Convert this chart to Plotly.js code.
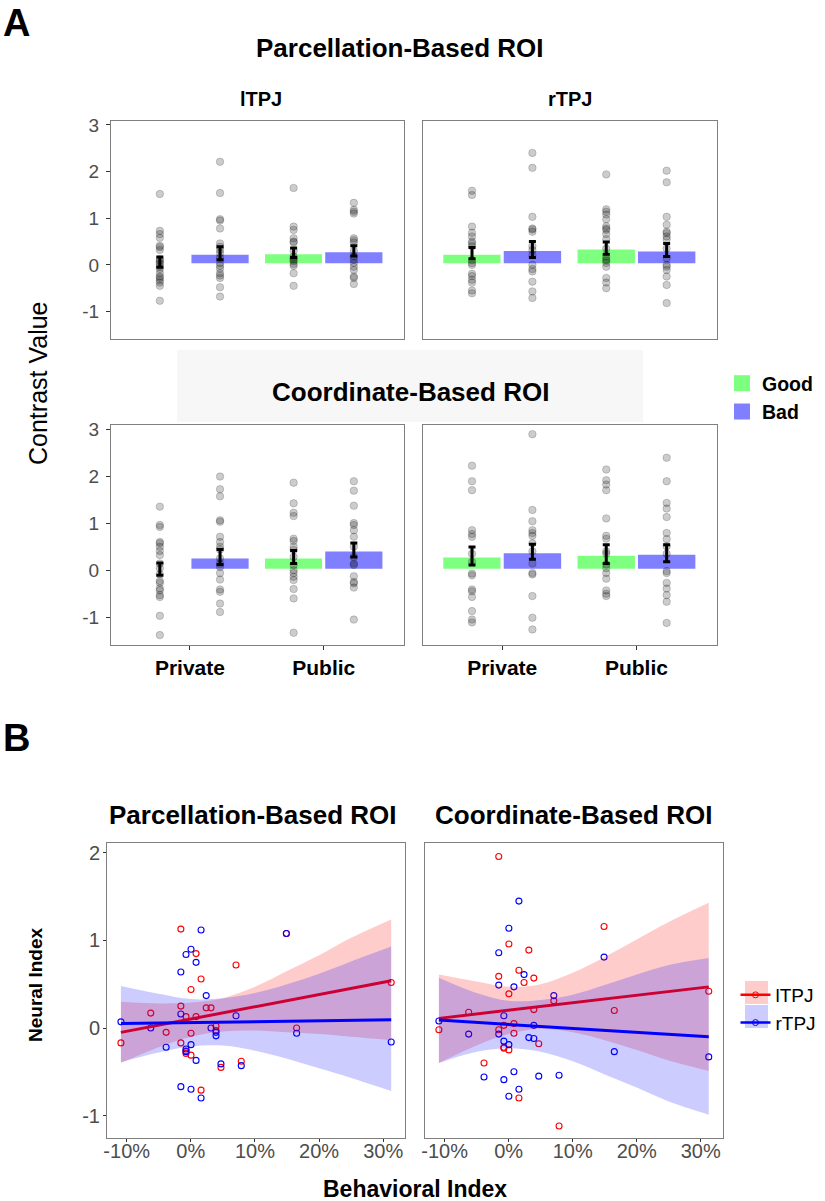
<!DOCTYPE html>
<html><head><meta charset="utf-8">
<script src="https://cdn.plot.ly/plotly-3.0.1.min.js"></script>
<style>html,body{margin:0;padding:0;background:#fff}#chart{width:825px;height:1201px}</style>
</head><body><div id="chart"></div>
<script>
// ---------------- DATA: Panel A ----------------
const categories = ['Private', 'Public'];
const conditions = ['Good', 'Bad'];
const yTicksA = [-1, 0, 1, 2, 3];
const yTickLabelsA = ['-1', '0', '1', '2', '3'];

// Parcellation-based, lTPJ
const parcL_good_mean = [0.06, 0.26], parcL_good_se = [0.11, 0.10];
const parcL_bad_mean  = [0.25, 0.30], parcL_bad_se  = [0.14, 0.11];
const parcL_good_private = [1.52, 0.73, 0.66, 0.58, 0.41, 0.38, 0.32, 0.12, 0.09, 0.05, 0.02, -0.04, -0.09, -0.18, -0.25, -0.28, -0.33, -0.38, -0.45, -0.77];
const parcL_good_public  = [1.65, 0.82, 0.75, 0.57, 0.50, 0.48, 0.30, 0.18, 0.14, 0.11, 0.08, 0.02, -0.02, -0.18, -0.45];
const parcL_bad_private  = [2.21, 1.54, 0.98, 0.95, 0.78, 0.46, 0.39, 0.32, 0.25, 0.15, 0.04, -0.02, -0.08, -0.18, -0.23, -0.28, -0.48, -0.68];
const parcL_bad_public   = [1.33, 1.18, 1.14, 1.10, 0.57, 0.53, 0.48, 0.30, 0.18, 0.11, 0.04, -0.04, -0.11, -0.25, -0.28, -0.41];

// Parcellation-based, rTPJ
const parcR_good_mean = [0.25, 0.36], parcR_good_se = [0.12, 0.13];
const parcR_bad_mean  = [0.33, 0.32], parcR_bad_se  = [0.17, 0.14];
const parcR_good_private = [1.59, 1.50, 0.82, 0.69, 0.61, 0.50, 0.46, 0.40, 0.10, 0.04, 0.00, -0.19, -0.24, -0.32, -0.38, -0.55, -0.61];
const parcR_good_public  = [1.94, 1.19, 1.14, 1.08, 0.98, 0.83, 0.78, 0.75, 0.66, 0.55, 0.35, 0.18, 0.12, 0.09, 0.04, -0.04, -0.28, -0.38, -0.50];
const parcR_bad_private  = [2.40, 2.08, 1.03, 0.78, 0.76, 0.71, 0.40, 0.32, 0.21, 0.00, -0.09, -0.14, -0.36, -0.57, -0.71];
const parcR_bad_public   = [2.02, 1.77, 1.03, 0.86, 0.71, 0.68, 0.61, 0.55, 0.35, 0.14, 0.00, -0.04, -0.11, -0.25, -0.43, -0.82];

// Coordinate-based, lTPJ
const coordL_good_mean = [0.02, 0.28], coordL_good_se = [0.13, 0.14];
const coordL_bad_mean  = [0.28, 0.43], coordL_bad_se  = [0.16, 0.15];
const coordL_good_private = [1.35, 0.96, 0.92, 0.60, 0.57, 0.50, 0.41, 0.32, 0.14, 0.04, -0.09, -0.23, -0.27, -0.39, -0.43, -0.53, -0.57, -0.97, -1.38];
const coordL_good_public  = [1.86, 1.42, 1.22, 1.15, 0.67, 0.62, 0.50, 0.43, 0.28, 0.11, 0.00, -0.06, -0.14, -0.21, -0.40, -0.60, -1.33];
const coordL_bad_private  = [1.99, 1.72, 1.57, 1.06, 1.03, 0.71, 0.60, 0.50, 0.44, 0.25, 0.14, 0.07, -0.06, -0.20, -0.41, -0.46, -0.71, -0.89];
const coordL_bad_public   = [1.89, 1.69, 1.37, 1.00, 0.96, 0.85, 0.71, 0.50, 0.28, 0.14, 0.11, -0.13, -0.25, -0.28, -0.37, -1.05];

// Coordinate-based, rTPJ
const coordR_good_mean = [0.30, 0.34], coordR_good_se = [0.19, 0.20];
const coordR_bad_mean  = [0.39, 0.36], coordR_bad_se  = [0.16, 0.18];
const coordR_good_private = [2.22, 1.89, 1.70, 0.85, 0.77, 0.71, 0.35, 0.18, -0.07, -0.11, -0.41, -0.45, -0.57, -0.87, -1.05, -1.11];
const coordR_good_public  = [2.14, 1.91, 1.82, 1.70, 1.10, 0.73, 0.67, 0.40, 0.35, 0.12, 0.04, -0.06, -0.18, -0.43, -0.50, -0.55];
const coordR_bad_private  = [2.89, 1.28, 1.04, 0.85, 0.79, 0.73, 0.57, 0.40, 0.14, -0.06, -0.09, -0.55, -1.01, -1.26];
const coordR_bad_public   = [2.39, 1.89, 1.43, 1.31, 1.13, 0.79, 0.66, 0.51, 0.35, -0.02, -0.06, -0.27, -0.39, -0.53, -0.67, -1.12];

// ---------------- DATA: Panel B ----------------
const regions = ['lTPJ', 'rTPJ'];
const xTicksB = [-0.1, 0, 0.1, 0.2, 0.3];
const xTickLabelsB = ['-10%', '0%', '10%', '20%', '30%'];
const yTicksB = [-1, 0, 1, 2];
const yTickLabelsB = ['-1', '0', '1', '2'];

const behavIndex = [-0.109, -0.0625, -0.0385, -0.0155, -0.0155, -0.0155, -0.0075, -0.0075, -0.0075, 0.0003, 0.0003, 0.0003, 0.0082, 0.0082, 0.016, 0.016, 0.024, 0.0315, 0.0393, 0.0393, 0.047, 0.0705, 0.0787, 0.149, 0.165, 0.3125];
const parc_lTPJ  = [-0.17, 0.17, -0.05, 1.13, 0.25, -0.17, 0.13, -0.26, -0.29, 0.44, -0.06, -0.31, 0.85, 0.13, 0.56, -0.71, 0.23, 0.23, 0.02, -0.03, -0.45, 0.72, -0.38, 1.08, 0.00, 0.52];
const parc_rTPJ  = [0.07, 0.00, -0.22, 0.64, 0.16, -0.67, 0.84, -0.24, -0.27, 0.90, -0.19, -0.70, 0.75, -0.37, 1.12, -0.80, 0.37, 0.00, -0.09, -0.05, -0.41, 0.14, -0.43, 1.08, -0.06, -0.16];
const coord_lTPJ = [-0.02, 0.18, -0.40, 1.96, 0.59, -0.02, 0.03, -0.22, -0.23, 0.96, 0.39, -0.25, 0.05, -0.06, 0.66, -0.80, 0.52, 0.89, 0.57, 0.21, -0.18, 0.31, -1.12, 1.16, 0.20, 0.42];
const coord_rTPJ = [0.08, -0.07, -0.56, 0.86, 0.49, -0.07, 0.14, -0.15, -0.59, 1.14, -0.19, -0.78, 0.47, -0.50, 1.45, -0.70, 0.61, -0.11, 0.03, -0.12, -0.55, 0.37, -0.54, 0.81, -0.27, -0.33];

// fitted regression lines (endpoints)
const fitX = [-0.109, 0.3125];
const parc_lTPJ_fit  = [-0.05, 0.54];
const parc_rTPJ_fit  = [0.05, 0.095];
const coord_lTPJ_fit = [0.11, 0.47];
const coord_rTPJ_fit = [0.09, -0.10];

// confidence bands
const bandX = [-0.109, -0.05, 0, 0.05, 0.10, 0.15, 0.20, 0.25, 0.3125];
const parc_lTPJ_upper  = [0.30, 0.28, 0.29, 0.34, 0.47, 0.65, 0.83, 1.03, 1.24];
const parc_lTPJ_lower  = [-0.40, -0.22, -0.10, -0.04, -0.03, -0.05, -0.07, -0.10, -0.14];
const parc_rTPJ_upper  = [0.48, 0.39, 0.33, 0.34, 0.40, 0.50, 0.62, 0.76, 0.93];
const parc_rTPJ_lower  = [-0.39, -0.28, -0.21, -0.20, -0.26, -0.35, -0.46, -0.57, -0.72];
const coord_lTPJ_upper = [0.61, 0.53, 0.47, 0.50, 0.63, 0.81, 1.01, 1.21, 1.43];
const coord_lTPJ_lower = [-0.40, -0.20, -0.07, -0.01, -0.05, -0.14, -0.25, -0.37, -0.49];
const coord_rTPJ_upper = [0.575, 0.40, 0.31, 0.32, 0.38, 0.49, 0.61, 0.72, 0.80];
const coord_rTPJ_lower = [-0.40, -0.27, -0.23, -0.27, -0.38, -0.53, -0.68, -0.84, -0.99];

// ---------------- BUILD ----------------
const FONT = 'Liberation Sans, Arial, Helvetica, sans-serif';
const W = 825, H = 1201;
const px = v => v / W;
const py = v => 1 - v / H;

const condFill = {Good: 'rgba(0,255,0,0.5)', Bad: 'rgba(0,0,255,0.5)'};
const dodge = {Good: -0.225, Bad: 0.225};
const barWidth = 0.45;

const panelsA = [
  {xa: 'x',  ya: 'y',  Good: {mean: parcL_good_mean, se: parcL_good_se, pts: [parcL_good_private, parcL_good_public]},
                        Bad:  {mean: parcL_bad_mean,  se: parcL_bad_se,  pts: [parcL_bad_private,  parcL_bad_public]}},
  {xa: 'x2', ya: 'y2', Good: {mean: parcR_good_mean, se: parcR_good_se, pts: [parcR_good_private, parcR_good_public]},
                        Bad:  {mean: parcR_bad_mean,  se: parcR_bad_se,  pts: [parcR_bad_private,  parcR_bad_public]}},
  {xa: 'x3', ya: 'y3', Good: {mean: coordL_good_mean, se: coordL_good_se, pts: [coordL_good_private, coordL_good_public]},
                        Bad:  {mean: coordL_bad_mean,  se: coordL_bad_se,  pts: [coordL_bad_private,  coordL_bad_public]}},
  {xa: 'x4', ya: 'y4', Good: {mean: coordR_good_mean, se: coordR_good_se, pts: [coordR_good_private, coordR_good_public]},
                        Bad:  {mean: coordR_bad_mean,  se: coordR_bad_se,  pts: [coordR_bad_private,  coordR_bad_public]}}
];

const traces = [];
panelsA.forEach(p => {
  conditions.forEach(c => {
    const d = p[c];
    const xs = categories.map((_, i) => i + dodge[c]);
    traces.push({type: 'bar', x: xs, y: d.mean, width: barWidth, xaxis: p.xa, yaxis: p.ya,
      marker: {color: condFill[c], line: {color: 'white', width: 3}}, showlegend: false, hoverinfo: 'skip'});
  });
});
panelsA.forEach(p => {
  conditions.forEach(c => {
    const d = p[c];
    const xs = [], ys = [];
    d.pts.forEach((arr, i) => arr.forEach(v => { xs.push(i + dodge[c]); ys.push(v); }));
    traces.push({type: 'scatter', mode: 'markers', x: xs, y: ys, xaxis: p.xa, yaxis: p.ya,
      marker: {size: 7.5, color: 'rgba(0,0,0,0.2)', line: {color: 'rgba(0,0,0,0.22)', width: 0.8}},
      showlegend: false, hoverinfo: 'skip'});
  });
});
panelsA.forEach(p => {
  conditions.forEach(c => {
    const d = p[c];
    const xs = categories.map((_, i) => i + dodge[c]);
    traces.push({type: 'scatter', mode: 'markers', x: xs, y: d.mean, xaxis: p.xa, yaxis: p.ya,
      marker: {size: 1, color: 'rgba(0,0,0,0)'},
      error_y: {type: 'data', array: d.se, visible: true, color: 'black', thickness: 3, width: 3.5},
      showlegend: false, hoverinfo: 'skip'});
  });
});
// legend entries for Good / Bad
conditions.forEach(c => {
  traces.push({type: 'scatter', mode: 'markers', x: [null], y: [null], name: c, legend: 'legend',
    xaxis: 'x', yaxis: 'y',
    marker: {symbol: 'square', size: 17, color: condFill[c], line: {width: 0}}});
});

// Panel B
const regColor = {lTPJ: 'red', rTPJ: 'blue'};
const regBand = {lTPJ: 'rgba(255,0,0,0.2)', rTPJ: 'rgba(0,0,255,0.2)'};
const panelsB = [
  {xa: 'x5', ya: 'y5', lTPJ: {y: parc_lTPJ, fit: parc_lTPJ_fit, up: parc_lTPJ_upper, lo: parc_lTPJ_lower},
                        rTPJ: {y: parc_rTPJ, fit: parc_rTPJ_fit, up: parc_rTPJ_upper, lo: parc_rTPJ_lower}},
  {xa: 'x6', ya: 'y6', lTPJ: {y: coord_lTPJ, fit: coord_lTPJ_fit, up: coord_lTPJ_upper, lo: coord_lTPJ_lower},
                        rTPJ: {y: coord_rTPJ, fit: coord_rTPJ_fit, up: coord_rTPJ_upper, lo: coord_rTPJ_lower}}
];
panelsB.forEach(p => {
  regions.forEach(r => {
    traces.push({type: 'scatter', mode: 'markers', x: behavIndex, y: p[r].y, xaxis: p.xa, yaxis: p.ya,
      marker: {symbol: 'circle-open', size: 6, color: regColor[r], line: {width: 1.1}},
      showlegend: false, hoverinfo: 'skip'});
  });
  regions.forEach(r => {
    traces.push({type: 'scatter', mode: 'lines', x: bandX, y: p[r].up, xaxis: p.xa, yaxis: p.ya,
      line: {width: 0, shape: 'spline'}, showlegend: false, hoverinfo: 'skip'});
    traces.push({type: 'scatter', mode: 'lines', x: bandX, y: p[r].lo, xaxis: p.xa, yaxis: p.ya,
      fill: 'tonexty', fillcolor: regBand[r],
      line: {width: 0, shape: 'spline'}, showlegend: false, hoverinfo: 'skip'});
    traces.push({type: 'scatter', mode: 'lines', x: fitX, y: p[r].fit, xaxis: p.xa, yaxis: p.ya,
      line: {width: 3, color: regColor[r]}, showlegend: false, hoverinfo: 'skip'});
  });
});
regions.forEach(r => {
  traces.push({type: 'scatter', mode: 'lines+markers', x: [null], y: [null], name: r, legend: 'legend2',
    xaxis: 'x5', yaxis: 'y5',
    line: {color: regColor[r], width: 2.5}, marker: {symbol: 'circle-open', size: 6, color: regColor[r]}});
});

// ---------------- LAYOUT ----------------
const frame = {showline: true, mirror: true, linecolor: '#7f7f7f', linewidth: 1, zeroline: false, showgrid: false};
function axA(dom, opts) { return Object.assign({}, frame, {domain: dom, range: [-0.59, 1.6], fixedrange: true}, opts); }
function ayA(dom, opts) { return Object.assign({}, frame, {domain: dom, range: [-1.59, 3.085], fixedrange: true}, opts); }
const yTickStyleA = {tickvals: yTicksA, ticktext: yTickLabelsA, ticks: 'outside', ticklen: 4, tickcolor: '#333',
  ticklabelstandoff: 3, tickfont: {family: FONT, size: 19, color: '#4d4d4d'}};
const xTickStyleA = {tickvals: [0, 1], ticktext: categories, ticks: 'outside', ticklen: 4, tickcolor: '#333',
  ticklabelstandoff: 0, tickfont: {family: FONT, size: 21, color: '#000', weight: 'bold'}};

const xTL = [px(111), px(404)], xTR = [px(423), px(717)];
const yTop = [py(339), py(121)], yBot = [py(645), py(425)];
const xBL = [px(107), px(405)], xBR = [px(425), px(722.5)];
const yB = [py(1138), py(843)];

function axB(dom) { return Object.assign({}, frame, {domain: dom, range: [-0.1307, 0.334], fixedrange: true,
  tickvals: xTicksB, ticktext: xTickLabelsB, ticks: 'outside', ticklen: 3, tickcolor: '#333', ticklabelstandoff: -8,
  tickfont: {family: FONT, size: 20, color: '#4d4d4d'}}); }
function ayB(dom, opts) { return Object.assign({}, frame, {domain: dom, range: [-1.257, 2.114], fixedrange: true}, opts); }

const ann = (text, x, y, size, opts) => Object.assign({text: text, xref: 'paper', yref: 'paper', x: px(x), y: py(y),
  xanchor: 'center', yanchor: 'middle', showarrow: false, font: {family: FONT, size: size, color: '#000'}}, opts || {});

const layout = {
  width: W, height: H, margin: {l: 0, r: 0, t: 0, b: 0}, paper_bgcolor: '#fff', plot_bgcolor: '#fff',
  font: {family: FONT}, showlegend: true, barmode: 'overlay', hovermode: false,
  xaxis:  axA(xTL, {anchor: 'y',  showticklabels: false, ticks: ''}),
  yaxis:  ayA(yTop, Object.assign({anchor: 'x'}, yTickStyleA)),
  xaxis2: axA(xTR, {anchor: 'y2', showticklabels: false, ticks: ''}),
  yaxis2: ayA(yTop, {anchor: 'x2', showticklabels: false, ticks: ''}),
  xaxis3: axA(xTL, Object.assign({anchor: 'y3'}, xTickStyleA)),
  yaxis3: ayA(yBot, Object.assign({anchor: 'x3'}, yTickStyleA)),
  xaxis4: axA(xTR, Object.assign({anchor: 'y4'}, xTickStyleA)),
  yaxis4: ayA(yBot, {anchor: 'x4', showticklabels: false, ticks: ''}),
  xaxis5: Object.assign(axB(xBL), {anchor: 'y5'}),
  yaxis5: ayB(yB, {anchor: 'x5', tickvals: yTicksB, ticktext: yTickLabelsB, ticks: 'outside', ticklen: 3,
    tickcolor: '#333', ticklabelstandoff: -1, tickfont: {family: FONT, size: 20, color: '#4d4d4d'}}),
  xaxis6: Object.assign(axB(xBR), {anchor: 'y6'}),
  yaxis6: ayB(yB, {anchor: 'x6', showticklabels: false, ticks: ''}),
  legend: {x: px(722), y: py(364), xanchor: 'left', yanchor: 'top', bgcolor: 'rgba(0,0,0,0)', traceorder: 'normal',
    font: {family: FONT, size: 19.5, color: '#000', weight: 'bold'}, tracegroupgap: 0, itemsizing: 'trace'},
  legend2: {x: px(735.5), y: py(976), xanchor: 'left', yanchor: 'top', bgcolor: 'rgba(0,0,0,0)', traceorder: 'normal',
    font: {family: FONT, size: 19, color: '#000'}, tracegroupgap: 0},
  shapes: [
    {type: 'rect', xref: 'paper', yref: 'paper', x0: px(177), x1: px(643), y0: py(422), y1: py(350),
      fillcolor: '#f7f7f7', line: {width: 0}, layer: 'below'},
    // legend key boxes (confidence band swatches) for panel B
    {type: 'rect', xref: 'paper', yref: 'paper', x0: px(745), x1: px(768), y0: py(1004), y1: py(981),
      fillcolor: 'rgba(255,0,0,0.2)', line: {width: 0}, layer: 'above'},
    {type: 'rect', xref: 'paper', yref: 'paper', x0: px(745), x1: px(768), y0: py(1028), y1: py(1005),
      fillcolor: 'rgba(0,0,255,0.2)', line: {width: 0}, layer: 'above'}
  ],
  annotations: [
    ann('<b>A</b>', 1, 0, 38, {xanchor: 'left', yanchor: 'top', y: 1}),
    ann('<b>Parcellation-Based ROI</b>', 400, 48, 26),
    ann('<b>lTPJ</b>', 261, 99, 20),
    ann('<b>rTPJ</b>', 570, 99, 20),
    ann('Contrast Value', 38, 383, 25, {textangle: -90}),
    ann('<b>Coordinate-Based ROI</b>', 410, 392, 26),
    ann('<b>B</b>', 1, 738, 38, {xanchor: 'left'}),
    ann('<b>Parcellation-Based ROI</b>', 253, 815, 26),
    ann('<b>Coordinate-Based ROI</b>', 573, 815, 26),
    ann('<b>Neural Index</b>', 36, 985, 19, {textangle: -90}),
    ann('<b>Behavioral Index</b>', 415, 1189, 23)
  ]
};

Plotly.newPlot('chart', traces, layout, {staticPlot: true, displayModeBar: false});
</script></body></html>
